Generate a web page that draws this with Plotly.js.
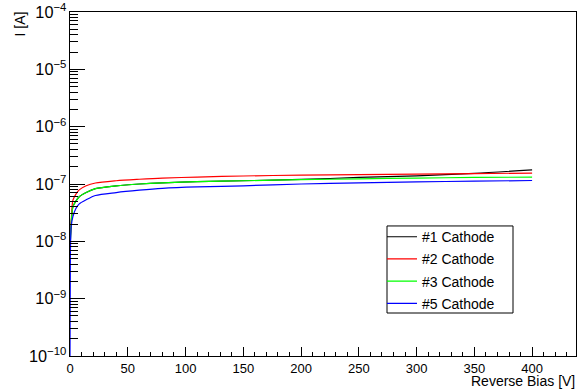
<!DOCTYPE html>
<html>
<head>
<meta charset="utf-8">
<script src="https://cdn.plot.ly/plotly-3.0.1.min.js"></script>
<style>html,body{margin:0;padding:0;background:#fff;}#chart{width:582px;height:391px;}</style>
</head>
<body>
<div id="chart"></div>
<script>
const biasV = [0, 0.3, 1, 2.5, 5, 8, 14, 22, 40, 60, 80, 110, 150, 200, 250, 300, 350, 400];
const cathode1 = [8e-9, 1.0e-8, 2.0e-8, 4.0e-8, 5.0e-8, 6.0e-8, 7.1e-8, 8.3e-8, 9.3e-8, 1.0e-7, 1.05e-7, 1.10e-7, 1.14e-7, 1.20e-7, 1.30e-7, 1.39e-7, 1.53e-7, 1.77e-7];
const cathode2 = [1e-8, 1.2e-8, 2.1e-8, 5.2e-8, 6.6e-8, 7.9e-8, 9.3e-8, 1.04e-7, 1.14e-7, 1.21e-7, 1.27e-7, 1.32e-7, 1.38e-7, 1.43e-7, 1.46e-7, 1.49e-7, 1.52e-7, 1.55e-7];
const cathode3 = [8e-9, 1.0e-8, 2.0e-8, 4.0e-8, 5.0e-8, 6.0e-8, 7.1e-8, 8.3e-8, 9.3e-8, 1.0e-7, 1.05e-7, 1.10e-7, 1.14e-7, 1.19e-7, 1.23e-7, 1.27e-7, 1.30e-7, 1.32e-7];
const cathode5 = [1e-10, 5e-9, 1.8e-8, 2.7e-8, 3.7e-8, 4.5e-8, 5.3e-8, 6.3e-8, 7.1e-8, 7.8e-8, 8.4e-8, 8.9e-8, 9.3e-8, 1.0e-7, 1.05e-7, 1.09e-7, 1.12e-7, 1.15e-7];
const seriesNames = ["#1 Cathode", "#2 Cathode", "#3 Cathode", "#5 Cathode"];
const seriesColors = ["#000000", "#ff0000", "#00ff00", "#0000ff"];
const seriesData = [cathode1, cathode2, cathode3, cathode5];

const traces = seriesData.map((ys, i) => ({
  x: biasV, y: ys, type: 'scatter', mode: 'lines', name: seriesNames[i],
  legendgroup: 'g' + i,
  line: {color: seriesColors[i], width: 1.2, shape: 'spline', smoothing: 0.8}
}));

const fam = '"Liberation Sans", Arial, sans-serif';
const font = {family: fam, size: 14, color: '#000'};
const layout = {
  width: 582, height: 391,
  margin: {l: 70, r: 6, t: 12, b: 35},
  paper_bgcolor: '#fff', plot_bgcolor: '#fff',
  font: font,
  showlegend: true,
  legend: {
    x: 0.6166, y: 0.392, xanchor: 'left', yanchor: 'top',
    borderwidth: 0, bgcolor: 'rgba(0,0,0,0)',
    font: {family: fam, size: 14, color: '#000'},
    tracegroupgap: 1
  },
  shapes: [
    {type: 'rect', xref: 'paper', yref: 'paper', x0: 0.6265, x1: 0.8755, y0: 0.125, y1: 0.378,
     line: {color: '#000', width: 1}, fillcolor: '#fff', layer: 'above'}
  ],
  xaxis: {
    range: [0, 438], showgrid: false, zeroline: false,
    showline: true, linecolor: '#000', linewidth: 1, mirror: true,
    ticks: 'inside', ticklen: 9, tickcolor: '#000', dtick: 50, tick0: 0,
    minor: {ticks: 'inside', ticklen: 4, dtick: 10, tickcolor: '#000', showgrid: false},
    tickfont: {family: fam, size: 13, color: '#000'}
  },
  yaxis: {
    type: 'log', range: [-10, -4], showgrid: false, zeroline: false,
    showline: true, linecolor: '#000', linewidth: 1, mirror: true,
    ticks: 'inside', ticklen: 15, tickcolor: '#000', dtick: 1,
    exponentformat: 'power', ticklabeloverflow: 'allow',
    minor: {ticks: 'inside', ticklen: 8, dtick: 'D1', tickcolor: '#000', showgrid: false},
    tickfont: {family: fam, size: 13, color: '#000'}
  },
  annotations: [
    {text: 'Reverse Bias [V]', xref: 'paper', yref: 'paper', x: 1, y: -0.0988, xanchor: 'right', yanchor: 'bottom', borderpad: 0, showarrow: false, font: font},
    {text: 'I [A]', xref: 'paper', yref: 'paper', x: 0, y: 1, xanchor: 'center', yanchor: 'top', xshift: -51, yshift: 2, textangle: -90, showarrow: false, font: font}
  ]
};
Plotly.newPlot('chart', traces, layout, {staticPlot: true, displayModeBar: false});
</script>
</body>
</html>
